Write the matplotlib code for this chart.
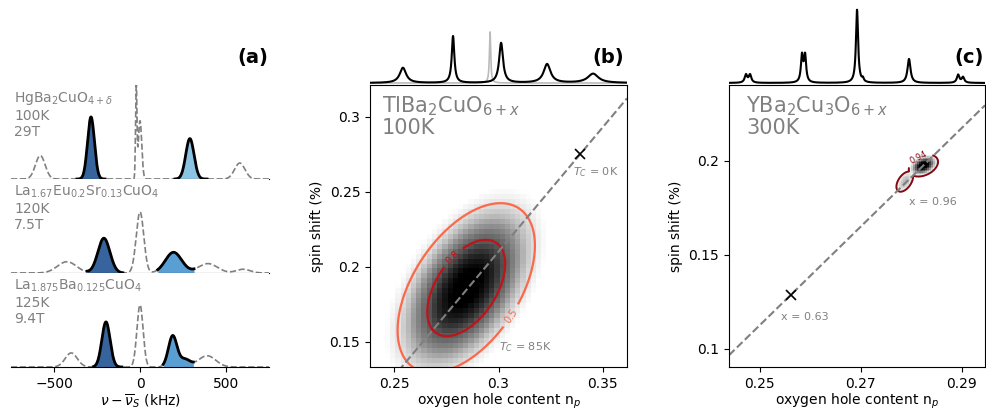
import numpy as np
import matplotlib
matplotlib.use("Agg")
import matplotlib.pyplot as plt
from matplotlib.colors import Normalize


### Panel (a) spectra: peaks as (centre kHz, height, width kHz)
### -----------------------------------------------------------
a_labels = [r'HgBa$_2$CuO$_{4+\delta}$' + '\n100K\n29T',
            r'La$_{1.67}$Eu$_{0.2}$Sr$_{0.13}$CuO$_4$' + '\n120K\n7.5T',
            r'La$_{1.875}$Ba$_{0.125}$CuO$_4$' + '\n125K\n9.4T']
a_centres = [[-580, -285, -22, 0, 290, 580],
             [-425, -210, 0, 195, 395, 600],
             [-400, -198, 0, 190, 260, 390]]
a_heights = [[0.25, 0.66, 0.98, 0.62, 0.43, 0.17],
             [0.12, 0.37, 0.65, 0.22, 0.10, 0.04],
             [0.15, 0.48, 0.66, 0.33, 0.08, 0.12]]
a_widths = [[28, 20, 4, 10, 24, 30],
            [55, 35, 22, 48, 55, 40],
            [35, 24, 18, 25, 30, 50]]
a_dark_range = [(-367, -203), (-308, -100), (-270, -105)]
a_light_range = [(203, 390), (103, 314), (135, 310)]
a_dark_col = ['#37649c', '#37649c', '#37649c']
a_light_col = ['#8cc3e3', '#5a9fd3', '#5a9fd3']

### Panel (b) TlBa2CuO6+x
### ---------------------
b_mu = (0.2845, 0.186)
b_sigma = (0.028, 0.048)
b_rho = 0.5
b_levels = [0.5, 0.8]
b_fit_np = [0.2383, 0.3617]
b_fit_shift = [0.1081, 0.3124]
b_cross = (0.3393, 0.2753)
b_xticks = [0.25, 0.3, 0.35]
b_xticklabels = ['0.25', '0.3', '0.35']
b_yticks = [0.15, 0.2, 0.25, 0.3]
b_yticklabels = ['0.15', '0.2', '0.25', '0.3']
# marginal spectrum (position along axis, height, half width)
bm_pos = [0.128, 0.323, 0.510, 0.689, 0.868]
bm_height = [0.19, 0.585, 0.50, 0.235, 0.115]
bm_width = [0.015, 0.006, 0.009, 0.016, 0.025]
bm_grey = (0.467, 0.64, 0.003)

### Panel (c) YBa2Cu3O6+x
### ---------------------
c_mu = [(0.2824, 0.1975), (0.2787, 0.1890)]
c_sigma = [(0.0019, 0.0038), (0.0016, 0.0052)]
c_rho = [0.35, 0.5]
c_amp = [3.0, 1.6]
c_levels = [0.94]
c_fit_np = [0.2439, 0.2946]
c_fit_shift = [0.0967, 0.2296]
c_cross = (0.2561, 0.1287)
c_xticks = [0.25, 0.27, 0.29]
c_xticklabels = ['0.25', '0.27', '0.29']
c_yticks = [0.1, 0.15, 0.2]
c_yticklabels = ['0.1', '0.15', '0.2']
cm_pos = [0.066, 0.082, 0.285, 0.297, 0.500, 0.523, 0.703, 0.895, 0.914]
cm_height = [0.10, 0.10, 0.33, 0.33, 0.915, 0.04, 0.30, 0.10, 0.07]
cm_width = [0.006, 0.006, 0.005, 0.005, 0.005, 0.004, 0.007, 0.006, 0.006]


def gauss_sum(x, cs, hs, ws):
    y = np.zeros_like(x)
    for c, h, w in zip(cs, hs, ws):
        y += h*np.exp(-0.5*((x - c)/w)**2)
    return y


def lorentz_sum(x, cs, hs, ws):
    y = np.zeros_like(x)
    for c, h, w in zip(cs, hs, ws):
        y += h/(1 + ((x - c)/w)**2)
    return y


def gauss2d(X, Y, mu, sig, rho=0.0):
    dx = (X - mu[0])/sig[0]
    dy = (Y - mu[1])/sig[1]
    return np.exp(-0.5/(1 - rho**2)*(dx**2 - 2*rho*dx*dy + dy**2))


def blob(X, Y):
    # two lobes, envelope of the two
    comps = [a*gauss2d(X, Y, m, s, r) for a, m, s, r in zip(c_amp, c_mu, c_sigma, c_rho)]
    return np.maximum(*comps)


fig = plt.figure(figsize=(9.86, 4.12), dpi=100)
reds = plt.get_cmap('Reds')
grey = 'gray'

### Panel (a)
### ---------
x = np.linspace(-750, 750, 3001)
bottoms = [0.5655, 0.3374, 0.1092]
for i in range(3):
    ax = fig.add_axes([0.0112, bottoms[i], 0.2616, 0.2282])
    y = gauss_sum(x, a_centres[i], a_heights[i], a_widths[i])
    ax.plot(x, y, '--', color='#808080', lw=1.2)
    for (lo, hi), col in [(a_dark_range[i], a_dark_col[i]),
                          (a_light_range[i], a_light_col[i])]:
        m = (x >= lo) & (x <= hi)
        ax.fill_between(x[m], 0, y[m], color=col, lw=0)
        ax.plot(x[m], y[m], color='k', lw=2)
    ax.set_xlim(-750, 750)
    ax.set_ylim(0, 1)
    for s in ['top', 'left', 'right']:
        ax.spines[s].set_visible(False)
    ax.set_yticks([])
    ax.text(0.012, 0.95, a_labels[i], transform=ax.transAxes, va='top',
            ha='left', color=grey, fontsize=10, linespacing=1.2)
    if i < 2:
        ax.set_xticks([])
    else:
        ax.set_xticks([-500, 0, 500])
        ax.set_xlabel(r'$\nu-\overline{\nu}_S$ (kHz)', labelpad=1)
fig.text(268/986, 1 - 57/412, '(a)', ha='right', va='center',
         fontsize=14, fontweight='bold')

### Panel (b)
### ---------
ax = fig.add_axes([0.3753, 0.1092, 0.2606, 0.6845])
xe = np.arange(0.238, 0.3625, 0.0025)
ye = np.arange(0.133, 0.3215, 0.0033)
Xc, Yc = np.meshgrid(0.5*(xe[1:] + xe[:-1]), 0.5*(ye[1:] + ye[:-1]))
ax.pcolormesh(xe, ye, gauss2d(Xc, Yc, b_mu, b_sigma, b_rho), cmap='Greys',
              vmin=0.38, vmax=0.97)
Xf, Yf = np.meshgrid(np.linspace(0.238, 0.362, 300), np.linspace(0.12, 0.321, 300))
cs = ax.contour(Xf, Yf, gauss2d(Xf, Yf, b_mu, b_sigma, b_rho), levels=b_levels,
                cmap=reds, norm=Normalize(0, 1), linewidths=1.6)
ax.clabel(cs, fmt='%g', fontsize=7, inline=True,
          manual=[(0.279, 0.205), (0.3075, 0.166)])
ax.plot(b_fit_np, b_fit_shift, '--', color='#808080', lw=1.5)
ax.plot(*b_cross, 'x', color='k', ms=7, mew=1.2)
ax.text(0.3357, 0.2633, r'$T_C$ = 0K', color=grey, fontsize=8, va='center')
ax.text(0.3003, 0.1467, r'$T_C$ = 85K', color=grey, fontsize=8, va='center')
ax.text(0.047, 0.965, r'TlBa$_2$CuO$_{6+x}$' + '\n100K', transform=ax.transAxes,
        va='top', ha='left', color=grey, fontsize=15, linespacing=1.0)
ax.set_xlim(0.2383, 0.3617)
ax.set_ylim(0.1333, 0.3213)
ax.set_xticks(b_xticks)
ax.set_xticklabels(b_xticklabels)
ax.set_yticks(b_yticks)
ax.set_yticklabels(b_yticklabels)
ax.set_xlabel('oxygen hole content n$_p$', labelpad=1)
ax.set_ylabel('spin shift (%)')

axm = fig.add_axes([0.3753, 0.7937, 0.2606, 0.1942])
xm = np.linspace(0, 1, 3000)
axm.plot(xm, 0.025 + lorentz_sum(xm, [bm_grey[0]], [bm_grey[1]], [bm_grey[2]]),
         color='#bbbbbb', lw=1.2)
axm.plot(xm, 0.025 + lorentz_sum(xm, bm_pos, bm_height, bm_width), color='k', lw=1.5)
axm.set_xlim(0, 1)
axm.set_ylim(0, 1)
axm.axis('off')
axm.text(0.99, 0.34, '(b)', transform=axm.transAxes, ha='right', va='center',
         fontsize=14, fontweight='bold')

### Panel (c)
### ---------
ax = fig.add_axes([0.7394, 0.1092, 0.2596, 0.6845])
xe = np.arange(0.2439, 0.2950, 0.0004)
ye = np.arange(0.0904, 0.2408, 0.0008)
Xc, Yc = np.meshgrid(0.5*(xe[1:] + xe[:-1]), 0.5*(ye[1:] + ye[:-1]))
ax.pcolormesh(xe, ye, blob(Xc, Yc), cmap='Greys', vmin=0.85, vmax=2.7)
Xf, Yf = np.meshgrid(np.linspace(0.2439, 0.2946, 600), np.linspace(0.0904, 0.2404, 1000))
cs = ax.contour(Xf, Yf, blob(Xf, Yf), levels=c_levels, cmap=reds, norm=Normalize(0, 1),
                linewidths=1.4)
ax.clabel(cs, fmt='%g', fontsize=6, inline=True, manual=[(0.2811, 0.2037)])
ax.plot(c_fit_np, c_fit_shift, '--', color='#808080', lw=1.5)
ax.plot(*c_cross, 'x', color='k', ms=7, mew=1.2)
ax.text(0.2542, 0.1170, 'x = 0.63', color=grey, fontsize=8, va='center')
ax.text(0.2795, 0.1782, 'x = 0.96', color=grey, fontsize=8, va='center')
ax.text(0.066, 0.965, r'YBa$_2$Cu$_3$O$_{6+x}$' + '\n300K', transform=ax.transAxes,
        va='top', ha='left', color=grey, fontsize=15, linespacing=1.0)
ax.set_xlim(0.2439, 0.2946)
ax.set_ylim(0.0904, 0.2404)
ax.set_xticks(c_xticks)
ax.set_xticklabels(c_xticklabels)
ax.set_yticks(c_yticks)
ax.set_yticklabels(c_yticklabels)
ax.set_xlabel('oxygen hole content n$_p$', labelpad=1)
ax.set_ylabel('spin shift (%)')

axm = fig.add_axes([0.7394, 0.7937, 0.2596, 0.1942])
axm.plot(xm, 0.025 + lorentz_sum(xm, cm_pos, cm_height, cm_width), color='k', lw=1.5)
axm.set_xlim(0, 1)
axm.set_ylim(0, 1)
axm.axis('off')
axm.text(0.996, 0.34, '(c)', transform=axm.transAxes, ha='right', va='center',
         fontsize=14, fontweight='bold')

fig.savefig('out.png', dpi=100)
